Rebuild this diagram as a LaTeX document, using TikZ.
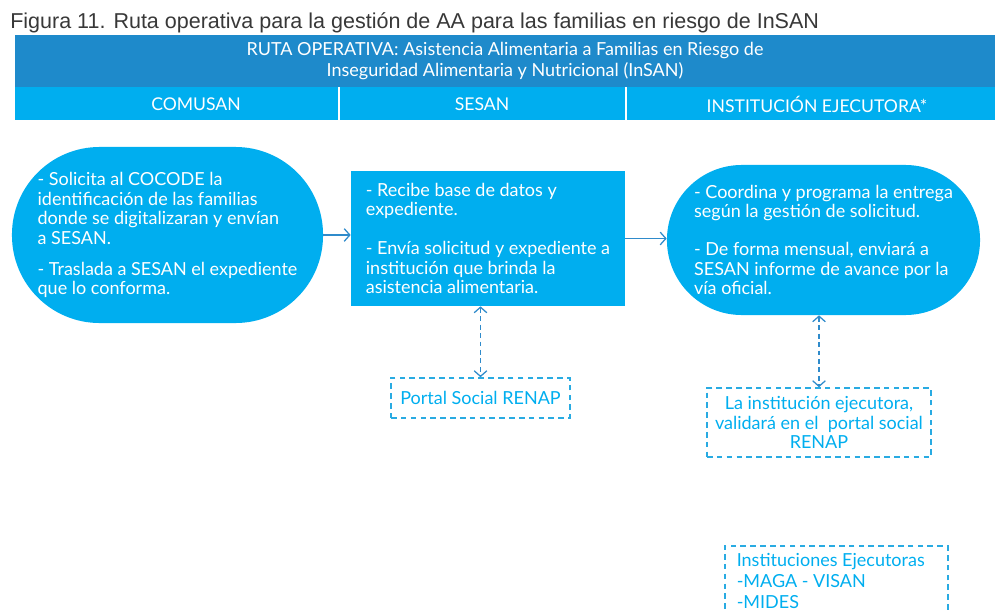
\documentclass[tikz,border=0pt]{standalone}
\usepackage{fontspec}
\setmainfont{Lato}
\newfontfamily\captfont{Liberation Sans}
\usetikzlibrary{arrows.meta, positioning}
\definecolor{barblue}{HTML}{1E8ACB}
\definecolor{cyanblue}{HTML}{00AEEF}
\definecolor{linkblue}{HTML}{2F8BCB}
\definecolor{dashblue}{HTML}{29ABE2}

\begin{document}
\begin{tikzpicture}[x=0.025cm, y=-0.025cm,
    boxtext/.style={font=\fontsize{12.8}{13.9}\selectfont},
    roundbox/.style={boxtext, fill=cyanblue, text=white, align=left, inner sep=0pt},
    squarebox/.style={boxtext, fill=cyanblue, text=white, align=left, inner sep=0pt},
    notebox/.style={boxtext, draw=dashblue, line width=1.1pt, dash pattern=on 4pt off 3pt, text=cyanblue, inner sep=0pt},
    link/.style={draw=linkblue, line width=0.9pt, -{Straight Barb[length=4pt, width=9pt]}},
    dlink/.style={draw=linkblue, line width=0.9pt, dash pattern=on 3.5pt off 2.5pt, {Straight Barb[length=4pt, width=9pt]}-{Straight Barb[length=4pt, width=9pt]}}]
    \clip (0,0) rectangle (995,612);
    \node[anchor=base west, font=\captfont\fontsize{15.3}{18}\selectfont, text=black!78, inner sep=0pt] (T) at (10,28)
        {Figura 11. Ruta operativa para la gestión de AA para las familias en riesgo de InSAN};
    \node[fill=barblue, minimum width=24.5cm, minimum height=1.3cm, inner sep=0pt, text=white, align=center,
        font=\fontsize{12.8}{15}\selectfont] (H) at (505,61)
        {RUTA OPERATIVA: Asistencia Alimentaria a Familias en Riesgo de\\Inseguridad Alimentaria y Nutricional (InSAN)};
    \node[fill=cyanblue, minimum width=24.5cm, minimum height=0.825cm, inner sep=0pt] (B) at (505,103.5) {};
    \draw[white, line width=1.5pt] (339,87) -- (339,120) (626,87) -- (626,120);
    \node[text=white, font=\fontsize{12.5}{15}\selectfont] (C1) at (196,104) {COMUSAN};
    \node[text=white, font=\fontsize{12.5}{15}\selectfont] (C2) at (482,104) {SESAN};
    \node[text=white, font=\fontsize{12.5}{15}\selectfont] (C3) at (817,104) {INSTITUCIÓN EJECUTORA*};

    \node[roundbox, rounded corners=2.19cm, minimum width=7.775cm, minimum height=4.4cm] (L) at (167.5,235)
        {- Solicita al COCODE la\\identificación de las familias\\donde se digitalizaran y envían\\a SESAN.\\[8pt]
         - Traslada a SESAN el expediente\\que lo conforma.};
    \node[squarebox, minimum width=6.85cm, minimum height=3.375cm] (M) at (488,238.5)
        {- Recibe base de datos y\\expediente.\\[13.9pt]
         - Envía solicitud y expediente a\\institución que brinda la\\asistencia alimentaria.};
    \node[roundbox, rounded corners=1.87cm, minimum width=7.825cm, minimum height=3.75cm] (R) at (823.5,240)
        {- Coordina y programa la entrega\\según la gestión de solicitud.\\[13pt]
         - De forma mensual, enviará a\\SESAN informe de avance por la\\vía oficial.};

    \node[notebox, minimum width=4.475cm, minimum height=1cm] (P) at (480.5,398) {Portal Social RENAP};
    \node[notebox, minimum width=5.6cm, minimum height=1.725cm, align=center] (V) at (819,422.5)
        {La institución ejecutora,\\validará en el~ portal social\\RENAP};
    \node[notebox, anchor=north west, text width=4.975cm, text depth=1.2cm, font=\fontsize{12.8}{14.6}\selectfont,
        inner xsep=0.3cm, inner ysep=0.2cm, align=flush left] (E) at (724,545)
        {Instituciones Ejecutoras\\-MAGA - VISAN\\-MIDES};

    \draw[link] (L.east) -- (L.east -| M.west);
    \draw[link] (M.east) -- (M.east -| R.west);
    \draw[dlink] (P.north |- M.south) -- (P.north);
    \draw[dlink] (V.north |- R.south) -- (V.north);
\end{tikzpicture}
\end{document}
